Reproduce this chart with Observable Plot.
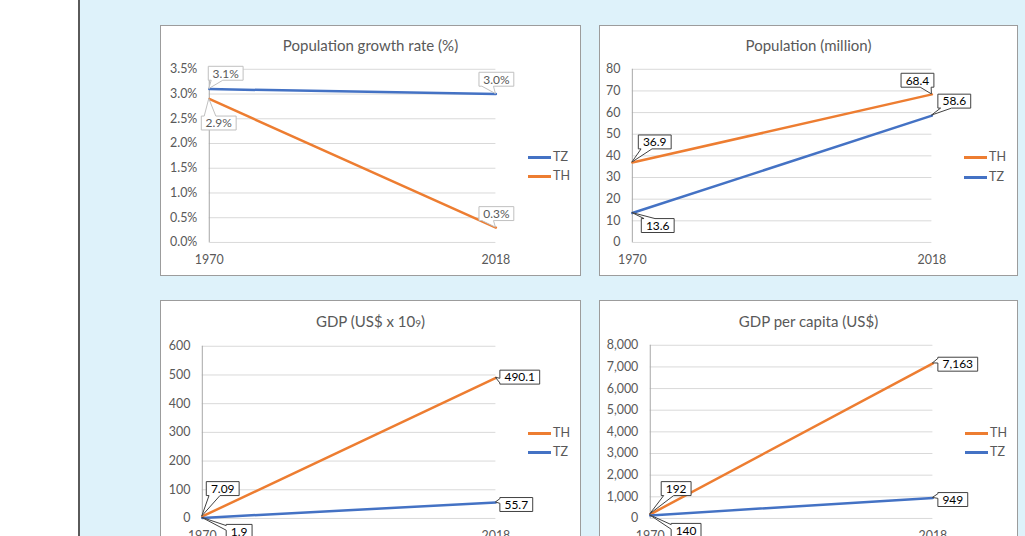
<!DOCTYPE html>
<html>
<head>
<meta charset="utf-8">
<script src="https://cdn.jsdelivr.net/npm/d3@7"></script>
<script src="https://cdn.jsdelivr.net/npm/@observablehq/plot@0.6"></script>
<style>
  html, body { margin: 0; padding: 0; }
  body { width: 1025px; height: 536px; overflow: hidden; position: relative; background: #fff; font-family: Lato, "Open Sans", sans-serif; }
  #backdrop { position: absolute; left: 80px; top: 0; width: 945px; height: 536px; background: #DEF2FA; }
  #divider { position: absolute; left: 78px; top: 0; width: 2px; height: 536px; background: #5a5a5a; }
  .panel { position: absolute; background: #fff; border: 1px solid #9c9c9c; box-sizing: border-box; overflow: hidden; }
  .panel svg { position: absolute; left: -1px; top: -1px; overflow: visible; }
  .title { position: absolute; left: 0; width: 100%; text-align: center; font-size: 15px; line-height: 18px; color: #595959; white-space: nowrap; }
  .title .small { font-size: 10px; }
  .legend-item { position: absolute; height: 14px; font-size: 12.5px; line-height: 14px; color: #595959; white-space: nowrap; }
  .legend-item .key { position: absolute; left: 0; top: 6px; width: 23px; height: 2.5px; }
  .legend-item .name { position: absolute; left: 25px; top: 0; }
</style>
</head>
<body>
<div id="backdrop"></div>
<div id="divider"></div>
<script>
// Two observation years
const years = ["1970", "2018"];

// Population growth rate (%)
const growthTZ = [3.1, 3.0];
const growthTH = [2.9, 0.3];
const growthTicks = [0, 0.5, 1.0, 1.5, 2.0, 2.5, 3.0, 3.5];

// Population (million)
const popTH = [36.9, 68.4];
const popTZ = [13.6, 58.6];
const popTicks = [0, 10, 20, 30, 40, 50, 60, 70, 80];

// GDP (US$ x 10^9)
const gdpTH = [7.09, 490.1];
const gdpTZ = [1.9, 55.7];
const gdpTicks = [0, 100, 200, 300, 400, 500, 600];

// GDP per capita (US$)
const gdpcTH = [192, 7163];
const gdpcTZ = [140, 949];
const gdpcTicks = [0, 1000, 2000, 3000, 4000, 5000, 6000, 7000, 8000];

const BLUE = "#4472C4";
const ORANGE = "#ED7D31";
const FONT = "Lato, 'Open Sans', sans-serif";
const TICK_SIZE = 12.5;
const LABEL_SIZE = 12;

// Callout box centre offsets (px) from each point, per country and year
const growthCallout = { TZ: [[16, -16], [0, -15]], TH: [[9.5, 24.5], [0, -14]] };
const popCallout = { TH: [[22, -21], [-14.5, -14]], TZ: [[25, 13], [22, -15]] };
const gdpCallout = { TH: [[20, -28], [23.5, -1]], TZ: [[37, 14], [20.5, 2]] };
const gdpcCallout = { TH: [[26, -26], [25, 1]], TZ: [[36, 15], [20, 2]] };

const measureCtx = document.createElement("canvas").getContext("2d");
function textWidth(str, size) {
  measureCtx.font = `${size}px Lato`;
  return measureCtx.measureText(str).width;
}

// Rectangle with a wedge pointing at (px, py), wedge base on the edge facing the point
function calloutPath(L, T, R, B, px, py) {
  const w = R - L, h = B - T;
  const cx = (L + R) / 2, cy = (T + B) / 2;
  const rx = (px - cx) / (w / 2), ry = (py - cy) / (h / 2);
  const xa = px < cx ? L + w / 12 : L + 7 * w / 12;
  const xb = px < cx ? L + 5 * w / 12 : L + 11 * w / 12;
  const ya = py < cy ? T + h / 12 : T + 7 * h / 12;
  const yb = py < cy ? T + 5 * h / 12 : T + 11 * h / 12;
  let side;
  if (Math.abs(ry) >= Math.abs(rx) && py > B) side = "bottom";
  else if (Math.abs(ry) >= Math.abs(rx) && py < T) side = "top";
  else if (px < L) side = "left";
  else if (px > R) side = "right";
  else side = py > cy ? "bottom" : "top";
  let d = `M${L},${T}`;
  if (side === "top") d += `H${xa}L${px},${py}L${xb},${T}`;
  d += `H${R}`;
  if (side === "right") d += `V${ya}L${px},${py}L${R},${yb}`;
  d += `V${B}`;
  if (side === "bottom") d += `H${xb}L${px},${py}L${xa},${B}`;
  d += `H${L}`;
  if (side === "left") d += `V${yb}L${px},${py}L${L},${ya}`;
  return d + "Z";
}

function callouts(rows, { offsets, fmt, stroke, color }) {
  return Plot.text(rows, {
    x: "year",
    y: "value",
    text: (d) => fmt(d.value),
    render(index, scales, values) {
      const g = d3.create("svg:g");
      for (const i of index) {
        const row = rows[i];
        const px = values.x[i], py = values.y[i];
        const label = fmt(row.value);
        const [ox, oy] = offsets[row.country][years.indexOf(row.year)];
        const w = Math.round(textWidth(label, LABEL_SIZE) + 9), h = 14;
        const cx = px + ox, cy = py + oy;
        const L = Math.round(cx - w / 2) + 0.5, T = Math.round(cy - h / 2) + 0.5;
        g.append("path")
          .attr("d", calloutPath(L, T, L + w, T + h, px, py))
          .attr("fill", "#fff")
          .attr("stroke", stroke)
          .attr("stroke-width", 1);
        g.append("text")
          .attr("x", L + w / 2)
          .attr("y", T + h / 2)
          .attr("dy", "0.36em")
          .attr("text-anchor", "middle")
          .attr("font-family", FONT)
          .attr("font-size", LABEL_SIZE)
          .attr("fill", color)
          .text(label);
      }
      return g.node();
    }
  });
}

function drawPanel(cfg) {
  const div = document.createElement("div");
  div.className = "panel";
  Object.assign(div.style, { left: cfg.left + "px", top: cfg.top + "px", width: cfg.w + "px", height: cfg.h + "px" });

  const rows = cfg.series.flatMap((s) => years.map((year, i) => ({ year, country: s.name, value: s.values[i] })));
  const lo = cfg.ticks[0], hi = cfg.ticks[cfg.ticks.length - 1];

  const svg = Plot.plot({
    width: cfg.w,
    height: cfg.h,
    marginLeft: cfg.ml,
    marginRight: cfg.mr,
    marginTop: cfg.mt,
    marginBottom: cfg.mb,
    style: { fontFamily: FONT, fontSize: TICK_SIZE + "px", color: "#595959", background: "transparent", overflow: "visible" },
    x: { type: "point", domain: years, padding: 0, axis: null },
    y: { domain: [lo, hi], axis: null },
    color: { domain: ["TZ", "TH"], range: [BLUE, ORANGE] },
    marks: [
      Plot.gridY(cfg.ticks, { stroke: "#D9D9D9", strokeOpacity: 1 }),
      Plot.ruleX([years[0]], { y1: lo, y2: hi, stroke: "#A6A6A6" }),
      Plot.axisY(cfg.ticks, { tickSize: 0, tickPadding: 12, tickFormat: cfg.tickFormat, fill: "#595959", fontSize: TICK_SIZE, label: null }),
      Plot.axisX(years, { tickSize: 0, tickPadding: 13, fill: "#595959", fontSize: TICK_SIZE, label: null }),
      Plot.line(rows, { x: "year", y: "value", stroke: "country", z: "country", strokeWidth: 2.5, strokeLinecap: "round" }),
      callouts(rows, { offsets: cfg.offsets, fmt: cfg.labelFormat, stroke: cfg.calloutStroke, color: cfg.calloutColor })
    ]
  });
  div.appendChild(svg);

  const title = document.createElement("div");
  title.className = "title";
  title.style.top = (cfg.titleY - 9) + "px";
  title.innerHTML = cfg.title;
  div.appendChild(title);

  cfg.legend.forEach((name, k) => {
    const item = document.createElement("div");
    item.className = "legend-item";
    item.style.left = cfg.legendX + "px";
    item.style.top = (cfg.legendY[k] - 7) + "px";
    const key = document.createElement("span");
    key.className = "key";
    key.style.background = name === "TZ" ? BLUE : ORANGE;
    const lab = document.createElement("span");
    lab.className = "name";
    lab.textContent = name;
    item.appendChild(key);
    item.appendChild(lab);
    div.appendChild(item);
  });

  document.body.appendChild(div);
}

const pct = (v) => v.toFixed(1) + "%";
const one = (v) => v.toFixed(1);
const comma = d3.format(",");

drawPanel({
  left: 160, top: 25, w: 421, h: 251, ml: 49, mr: 84, mt: 44, mb: 33,
  title: "Population growth rate (%)", titleY: 19,
  series: [{ name: "TZ", values: growthTZ }, { name: "TH", values: growthTH }],
  ticks: growthTicks, tickFormat: pct, labelFormat: pct,
  offsets: growthCallout, calloutStroke: "#BFBFBF", calloutColor: "#595959",
  legend: ["TZ", "TH"], legendX: 367, legendY: [131, 150]
});

drawPanel({
  left: 599, top: 25, w: 419, h: 251, ml: 33, mr: 85, mt: 44, mb: 33,
  title: "Population (million)", titleY: 19,
  series: [{ name: "TH", values: popTH }, { name: "TZ", values: popTZ }],
  ticks: popTicks, tickFormat: (v) => String(v), labelFormat: one,
  offsets: popCallout, calloutStroke: "#404040", calloutColor: "#000",
  legend: ["TH", "TZ"], legendX: 364, legendY: [131, 151]
});

drawPanel({
  left: 160, top: 300, w: 421, h: 260, ml: 42, mr: 84, mt: 46, mb: 41,
  title: 'GDP (US$ x 10<span class="small">9</span>)', titleY: 20,
  series: [{ name: "TH", values: gdpTH }, { name: "TZ", values: gdpTZ }],
  ticks: gdpTicks, tickFormat: (v) => String(v), labelFormat: (v) => String(v),
  offsets: gdpCallout, calloutStroke: "#404040", calloutColor: "#000",
  legend: ["TH", "TZ"], legendX: 367, legendY: [132, 151]
});

drawPanel({
  left: 599, top: 300, w: 419, h: 260, ml: 51, mr: 84, mt: 45, mb: 41,
  title: "GDP per capita (US$)", titleY: 20,
  series: [{ name: "TH", values: gdpcTH }, { name: "TZ", values: gdpcTZ }],
  ticks: gdpcTicks, tickFormat: comma, labelFormat: comma,
  offsets: gdpcCallout, calloutStroke: "#404040", calloutColor: "#000",
  legend: ["TH", "TZ"], legendX: 365, legendY: [132, 151]
});
</script>
</body>
</html>
